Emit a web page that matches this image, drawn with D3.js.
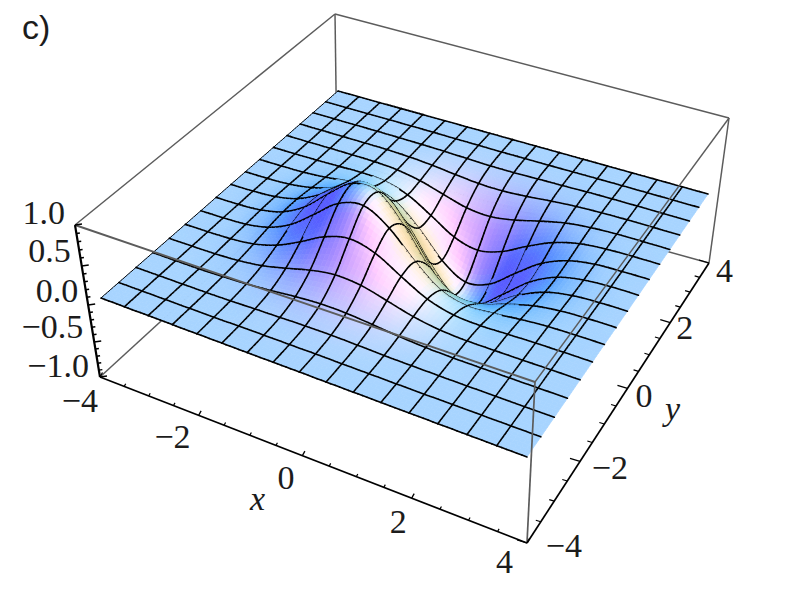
<!DOCTYPE html>
<html><head><meta charset="utf-8">
<style>html,body{margin:0;padding:0;background:#fff}svg{display:block}
text{font-family:"Liberation Serif","Times New Roman",serif;fill:#1c1c1c}</style>
<script src="https://cdn.jsdelivr.net/npm/d3@7"></script></head><body><div id="c"></div>
<script>
// ---------- data ----------
const panelLabel = "c)";
const xGrid = [-4,-3.5,-3,-2.5,-2,-1.5,-1,-0.5,0,0.5,1,1.5,2,2.5,3,3.5,4];
const yGrid = [-4,-3.5,-3,-2.5,-2,-1.5,-1,-0.5,0,0.5,1,1.5,2,2.5,3,3.5,4];
const xMajor = [-4,-2,0,2,4];
const xMinor = [-3.5,-3,-2.5,-1.5,-1,-0.5,0.5,1,1.5,2.5,3,3.5];
const yMajor = [-4,-2,0,2,4];
const yMinor = [-3.5,-3,-2.5,-1.5,-1,-0.5,0.5,1,1.5,2.5,3,3.5];
const zMajor = [1,0.5,0,-0.5,-1];
const zMinor = [0.9,0.8,0.7,0.6,0.4,0.3,0.2,0.1,-0.1,-0.2,-0.3,-0.4,-0.6,-0.7,-0.8,-0.9];
const xTickLabels = ["\u22124","\u22122","0","2","4"];
const yTickLabels = ["\u22124","\u22122","0","2","4"];
const zTickLabels = ["1.0","0.5","0.0","\u22120.5","\u22121.0"];
// surface height at each mesh crossing, one row per y (from y=-4 to y=4), one column per x
const heights = [
[0,0,0,0,0,0,0,0,.001,0,0,0,0,0,0,0,0],
[0,0,0,0,.001,.003,.005,.005,.006,.004,.003,.001,0,0,0,0,0],
[0,0,0,.001,.005,.014,.020,.028,.028,.020,.010,.005,.002,0,0,0,0],
[0,0,.001,.008,.022,.048,.081,.102,.097,.068,.035,.012,.002,0,0,0,0],
[0,.001,.005,.022,.062,.137,.222,.273,.249,.164,.074,.020,0,-.002,-.002,0,0],
[0,.003,.014,.048,.137,.288,.460,.544,.465,.272,.092,0,-.020,-.012,-.005,-.001,0],
[0,.005,.020,.081,.222,.460,.706,.783,.594,.261,0,-.092,-.074,-.035,-.010,-.003,0],
[.001,.005,.028,.102,.273,.544,.783,.771,.439,0,-.261,-.272,-.164,-.068,-.020,-.004,-.001],
[.001,.006,.028,.097,.249,.465,.594,.439,0,-.439,-.594,-.465,-.249,-.097,-.028,-.006,-.001],
[.001,.004,.020,.068,.164,.272,.261,0,-.439,-.771,-.783,-.544,-.273,-.102,-.028,-.005,-.001],
[0,.003,.010,.035,.074,.092,0,-.261,-.594,-.783,-.706,-.460,-.222,-.081,-.020,-.005,0],
[0,.001,.005,.012,.020,0,-.092,-.272,-.465,-.544,-.460,-.288,-.137,-.048,-.014,-.003,0],
[0,0,.002,.002,0,-.020,-.074,-.164,-.249,-.273,-.222,-.137,-.062,-.022,-.005,-.001,0],
[0,0,0,0,-.002,-.012,-.035,-.068,-.097,-.102,-.081,-.048,-.022,-.008,-.001,0,0],
[0,0,0,0,-.002,-.005,-.010,-.020,-.028,-.028,-.020,-.014,-.005,-.001,0,0,0],
[0,0,0,0,0,-.001,-.003,-.004,-.006,-.005,-.005,-.003,-.001,0,0,0,0],
[0,0,0,0,0,0,0,0,0,0,0,0,0,0,0,0,0]];

// ---------- layout ----------
const W=804,H=612,SUB=6;
const svg=d3.select("#c").append("svg").attr("width",W).attr("height",H);
const sx=d3.scaleLinear().domain([-4,4]).range([0,1]);
const sy=d3.scaleLinear().domain([-4,4]).range([0,1]);
const sz=d3.scaleLinear().domain([1,-1]).range([0,1]);
// screen corners of the frame
const Atop=[75,225],Abot=[100,377],Btop=[535,382],Bbot=[527,543],Ctop=[729,118],Cbot=[709,263],Dtop=[335,14],Dbot=[337,160];
// screen corners of the flat sheet
const sL=[101,298],sB=[527,457],sR=[708,194],sT=[338,91];
const dx1=sB[0]-sR[0],dx2=sT[0]-sR[0],qx=sL[0]-sB[0]+sR[0]-sT[0];
const dy1=sB[1]-sR[1],dy2=sT[1]-sR[1],qy=sL[1]-sB[1]+sR[1]-sT[1];
const det=dx1*dy2-dx2*dy1,hg=(qx*dy2-dx2*qy)/det,hh=(dx1*qy-qx*dy1)/det;
const ha=sB[0]-sL[0]+hg*sB[0],hb=sT[0]-sL[0]+hh*sT[0],hd=sB[1]-sL[1]+hg*sB[1],he=sT[1]-sL[1]+hh*sT[1];
const liftL=[-12.5,-76],liftB=[4,-80.5],liftR=[10,-72.5],liftT=[-1,-73];
function project(x,y,z){
  const u=sx(x),v=sy(y),D=1+hg*u+hh*v;
  const X=(ha*u+hb*v+sL[0])/D,Y=(hd*u+he*v+sL[1])/D;
  const lx=(1-u)*(1-v)*liftL[0]+u*(1-v)*liftB[0]+u*v*liftR[0]+(1-u)*v*liftT[0];
  const ly=(1-u)*(1-v)*liftL[1]+u*(1-v)*liftB[1]+u*v*liftR[1]+(1-u)*v*liftT[1];
  return [X+lx*z,Y+ly*z];
}
function edge(P,Q,w,t){const k=t*w/((1-t)+t*w);return [P[0]+(Q[0]-P[0])*k,P[1]+(Q[1]-P[1])*k];}

// ---------- surface ----------
function cr(a,b,c,d,t){return .5*(2*b+(c-a)*t+(2*a-5*b+4*c-d)*t*t+(3*b-a-3*c+d)*t*t*t);}
const nI=xGrid.length,nJ=yGrid.length,cl=(v,n)=>Math.max(0,Math.min(n-1,v));
function zAt(fi,fj){
  const i=Math.min(Math.floor(fi),nI-2),j=Math.min(Math.floor(fj),nJ-2),ti=fi-i,tj=fj-j,r=[];
  for(let m=-1;m<=2;m++){const row=heights[cl(j+m,nJ)];
    r.push(cr(row[cl(i-1,nI)],row[cl(i,nI)],row[cl(i+1,nI)],row[cl(i+2,nI)],ti));}
  return cr(r[0],r[1],r[2],r[3],tj);
}
const NS=(nI-1)*SUB+1,cell=(xGrid[1]-xGrid[0])/SUB;
const gx=d3.scaleLinear().domain([0,NS-1]).range([xGrid[0],xGrid[nI-1]]);
const gy=d3.scaleLinear().domain([0,NS-1]).range([yGrid[0],yGrid[nJ-1]]);
const Z=d3.range(NS).map(r=>d3.range(NS).map(c=>zAt(c/SUB,r/SUB)));
// view rotation and lights
const Rm=[[.863,.506,0],[-.326,.554,.767],[.387,-.66,.643]];
const lights=[{c:[.8,0,0],l:[.588,-.196,.784]},{c:[0,.8,0],l:[.515,.515,.686]},{c:[0,0,.8],l:[-.196,.588,.784]}];
const ambient=[.312,.188,.4],albedo=[1.1,.97,1];
function shade(r,c){
  const r0=Math.max(0,r-1),r1=Math.min(NS-1,r+1),c0=Math.max(0,c-1),c1=Math.min(NS-1,c+1);
  const zx=(Z[r][c1]-Z[r][c0])/((c1-c0)*cell),zy=(Z[r1][c]-Z[r0][c])/((r1-r0)*cell);
  let N=[-1.6*zx,-1.6*zy,1];const L=Math.hypot(...N);N=N.map(v=>v/L);
  let n=Rm.map(row=>row[0]*N[0]+row[1]*N[1]+row[2]*N[2]);
  if(n[2]<0)n=n.map(v=>-v);
  return ambient.map((a,k)=>{let s=a;
    lights.forEach(o=>{const d=Math.max(0,n[0]*o.l[0]+n[1]*o.l[1]+n[2]*o.l[2]);
      s+=o.c[k]*d;});
    return s*albedo[k];});
}
const C=d3.range(NS).map(r=>d3.range(NS).map(c=>shade(r,c)));
const P=d3.range(NS).map(r=>d3.range(NS).map(c=>project(gx(c),gy(r),Z[r][c])));
const depth=(r,c)=>.387*.125*gx(c)-.66*.125*gy(r)+.643*.2*Z[r][c];
const items=[];
for(let r=0;r<NS-1;r++)for(let c=0;c<NS-1;c++){
  const cs=[C[r][c],C[r][c+1],C[r+1][c+1],C[r+1][c]];
  const m=[0,1,2].map(k=>d3.mean(cs,v=>v[k]));
  const col=d3.rgb(...m.map(v=>Math.min(255,Math.max(0,v*255)))).formatHex();
  items.push({d:d3.mean([depth(r,c),depth(r,c+1),depth(r+1,c),depth(r+1,c+1)]),kind:"q",
    pts:[P[r][c],P[r][c+1],P[r+1][c+1],P[r+1][c]],col});
}
const bias=.004,meshW=1.6;
for(let j=0;j<nJ;j++){for(let c=0;c<NS-1;c++){const r=j*SUB;
  items.push({d:(depth(r,c)+depth(r,c+1))/2+bias,kind:"l",pts:[P[r][c],P[r][c+1]],w:meshW});}}
for(let i=0;i<nI-1;i++){for(let r=0;r<NS-1;r++){const c=i*SUB;
  items.push({d:(depth(r,c)+depth(r+1,c))/2+bias,kind:"l",pts:[P[r][c],P[r+1][c]],w:i===0?1:meshW});}}
items.sort((a,b)=>a.d-b.d);
const line=d3.line();

// ---------- frame behind the surface ----------
const gridCol="#5c5c5c";
const seg=(g,a,b,w,col)=>g.append("line").attr("x1",a[0]).attr("y1",a[1]).attr("x2",b[0]).attr("y2",b[1]).attr("stroke",col).attr("stroke-width",w);
const back=svg.append("g");
[[Atop,Dtop],[Dtop,Ctop],[Ctop,Cbot],[Dtop,Dbot],[Abot,Dbot],[Dbot,Cbot]].forEach(e=>seg(back,e[0],e[1],1.5,gridCol));

svg.append("g").selectAll("path").data(items).join("path")
  .attr("d",d=>d.kind==="q"?line(d.pts)+"Z":line(d.pts))
  .attr("fill",d=>d.kind==="q"?d.col:"none")
  .attr("stroke",d=>d.kind==="q"?d.col:"#000")
  .attr("stroke-width",d=>d.kind==="q"?.7:d.w)
  .attr("stroke-linecap",d=>d.kind==="q"?null:"round");

// ---------- frame in front ----------
const front=svg.append("g");
seg(front,Atop,Btop,1.9,gridCol);seg(front,Btop,Ctop,1.4,gridCol);seg(front,Btop,Bbot,1.7,gridCol);

// ---------- axes ----------
const ax=svg.append("g");
seg(ax,Abot,Bbot,1.7,"#000");seg(ax,Bbot,Cbot,1.7,"#000");seg(ax,Atop,Abot,2.2,"#000");
const xT=v=>edge(Abot,Bbot,.901,sx(v)),yT=v=>edge(Bbot,Cbot,1.232,sy(v)),zT=v=>edge(Atop,Abot,1.11,sz(v));
const tick=(p,d,k,w)=>seg(ax,p,[p[0]+d[0]*k,p[1]+d[1]*k],w,"#000");
xMajor.forEach(v=>tick(xT(v),[2.5,-4.5],1,1.3));xMinor.forEach(v=>tick(xT(v),[2.5,-4.5],.6,1.2));
yMajor.forEach(v=>tick(yT(v),[-10,-3],1,1.3));yMinor.forEach(v=>tick(yT(v),[-10,-3],.5,1.2));
zMajor.forEach(v=>tick(zT(v),[7,-1],1,1.5));zMinor.forEach(v=>tick(zT(v),[7,-1],.5,1.5));

// ---------- text ----------
const FS=34;
const lab=(p,off,s)=>svg.append("text").attr("x",p[0]+off[0]).attr("y",p[1]+off[1]).attr("text-anchor","end").attr("font-size",FS).text(s);
const xOff=[[-2,35],[-8,33],[-8,33],[-5,35],[-14,30]];
const yOff=[[55,14],[48,18],[25,19],[23,16],[24,19]];
const zOff=[[-10,-1],[-11,-4],[-10,-3],[-11,-4],[-11,0]];
xMajor.forEach((v,i)=>lab(xT(v),xOff[i],xTickLabels[i]));
yMajor.forEach((v,i)=>lab(yT(v),yOff[i],yTickLabels[i]));
zMajor.forEach((v,i)=>lab(zT(v),zOff[i],zTickLabels[i]));
svg.append("text").attr("x",250).attr("y",510).attr("font-size",FS).attr("font-style","italic").text("x");
svg.append("text").attr("x",665).attr("y",420).attr("font-size",FS).attr("font-style","italic").text("y");
svg.append("text").attr("x",22).attr("y",39).attr("font-size",34).style("font-family","'Liberation Sans',Arial,sans-serif").text(panelLabel);
</script></body></html>
